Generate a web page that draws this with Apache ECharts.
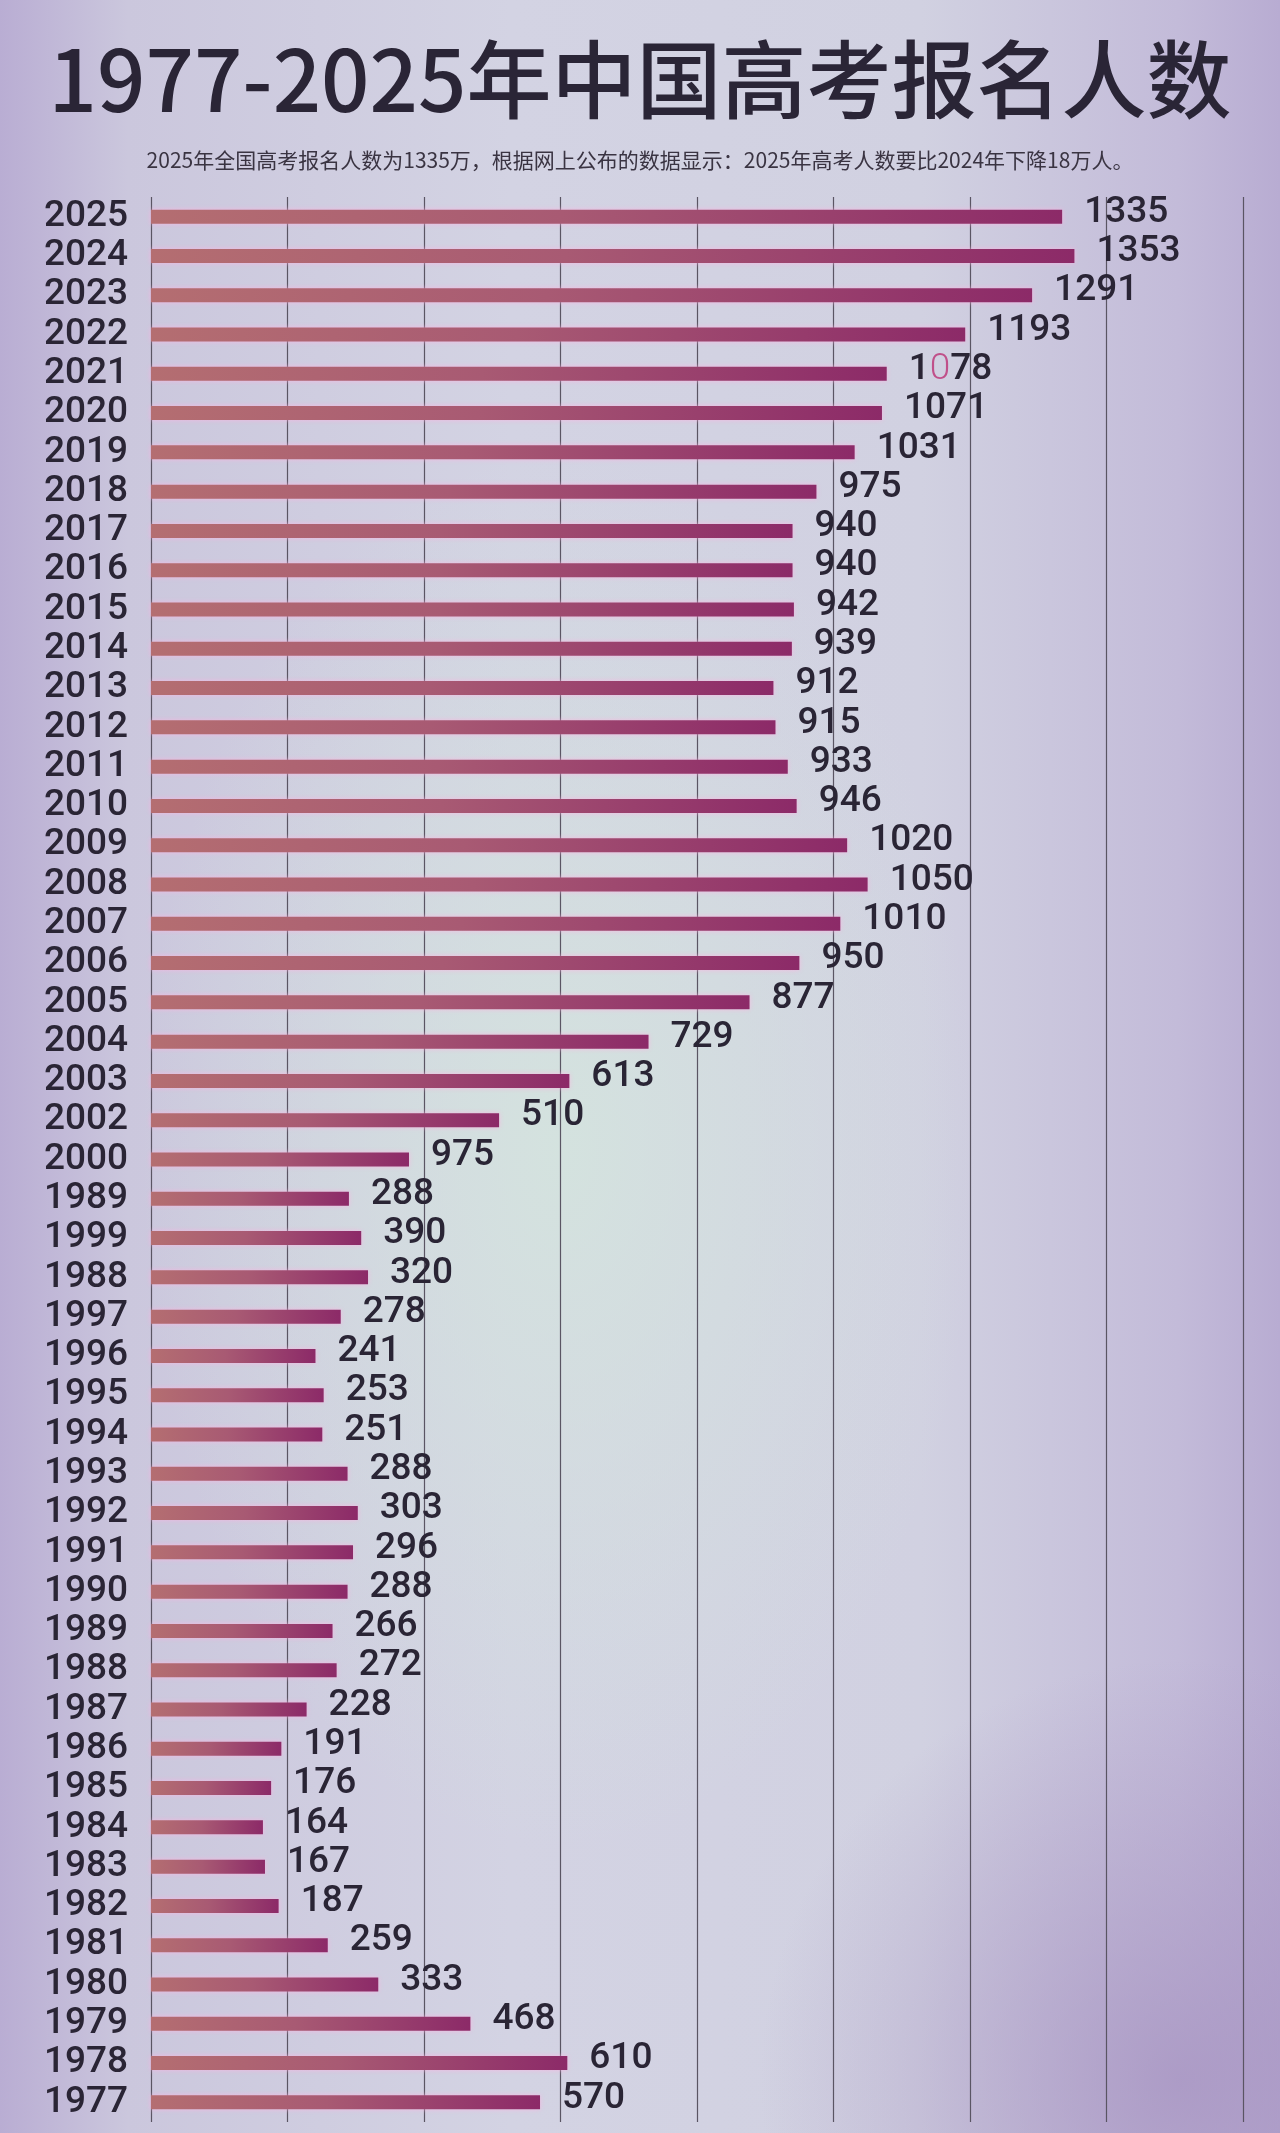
<!DOCTYPE html>
<html>
<head>
<meta charset="utf-8">
<title>1977-2025年中国高考报名人数</title>
<script src="https://cdn.jsdelivr.net/npm/echarts@6/dist/echarts.min.js"></script>
<style>
  html, body {
    margin: 0;
    padding: 0;
  }
  body {
    width: 1280px;
    height: 2133px;
    background:
      radial-gradient(ellipse 420px 700px at 560px 1150px, rgba(212, 228, 222, 0.9), rgba(212, 228, 222, 0) 100%),
      radial-gradient(ellipse 420px 420px at 1180px 2080px, rgba(165, 145, 192, 0.75), rgba(165, 145, 192, 0) 100%),
      linear-gradient(90deg, #b9add3 0%, #cbc7dd 10%, #d3d3e3 40%, #d1d1e1 72%, #c3bbd9 92%, #b8acd2 100%);
  }
  #chart {
    width: 1280px;
    height: 2133px;
  }
</style>
</head>
<body>
<div id="chart"></div>
<script>
  // 年份（自上而下，保持原图顺序）
  const years = [
    "2025", "2024", "2023", "2022", "2021", "2020", "2019", "2018", "2017", "2016",
    "2015", "2014", "2013", "2012", "2011", "2010", "2009", "2008", "2007", "2006",
    "2005", "2004", "2003", "2002", "2000", "1989", "1999", "1988", "1997", "1996",
    "1995", "1994", "1993", "1992", "1991", "1990", "1989", "1988", "1987", "1986",
    "1985", "1984", "1983", "1982", "1981", "1980", "1979", "1978", "1977",
  ];
  // 条形右侧标注的数字（万人）
  const shown = [
    1335, 1353, 1291, 1193, 1078, 1071, 1031, 975, 940, 940,
    942, 939, 912, 915, 933, 946, 1020, 1050, 1010, 950,
    877, 729, 613, 510, 975, 288, 390, 320, 278, 241,
    253, 251, 288, 303, 296, 288, 266, 272, 228, 191,
    176, 164, 167, 187, 259, 333, 468, 610, 570,
  ];
  // 条形长度（按图中量得，2000 与 1999 两行和标注不一致）
  const values = [
    1335, 1353, 1291, 1193, 1078, 1071, 1031, 975, 940, 940,
    942, 939, 912, 915, 933, 946, 1020, 1050, 1010, 950,
    877, 729, 613, 510, 378, 290, 308, 318, 278, 241,
    253, 251, 288, 303, 296, 288, 266, 272, 228, 191,
    176, 164, 167, 187, 259, 333, 468, 610, 570,
  ];
  const xTicks = [0, 200, 400, 600, 800, 1000, 1200, 1400, 1600];

  const titleText = "1977-2025年中国高考报名人数";
  const subText =
    "2025年全国高考报名人数为1335万，根据网上公布的数据显示：2025年高考人数要比2024年下降18万人。";

  const myChart = echarts.init(document.getElementById("chart"), null, {
    renderer: "canvas",
  });

  const numFont = "Roboto, 'Liberation Sans', sans-serif";

  const option = {
    backgroundColor: "transparent",
    animation: false,
    title: {
      text: titleText,
      subtext: subText,
      left: "center",
      top: 32,
      itemGap: 28,
      textStyle: {
        fontFamily: "'Noto Sans CJK SC', sans-serif",
        fontSize: 85,
        fontWeight: 500,
        color: "#2a2536",
      },
      subtextStyle: {
        fontFamily: "'Noto Sans CJK SC', sans-serif",
        fontSize: 21,
        color: "#3a3442",
      },
    },
    grid: {
      left: 151,
      right: 37,
      top: 197,
      bottom: 11,
      containLabel: false,
    },
    xAxis: {
      type: "value",
      min: xTicks[0],
      max: xTicks[xTicks.length - 1],
      interval: xTicks[1] - xTicks[0],
      axisLine: { show: false },
      axisTick: { show: false },
      axisLabel: { show: false },
      splitLine: {
        show: true,
        lineStyle: { color: "#5a5563", width: 1.2 },
      },
    },
    yAxis: {
      type: "category",
      inverse: true,
      data: years,
      axisLine: { show: false },
      axisTick: { show: false },
      axisLabel: {
        interval: 0,
        margin: 23,
        fontFamily: numFont,
        fontSize: 37,
        fontWeight: 500,
        color: "#2a2535",
        padding: [0, 0, 10, 0],
      },
    },
    series: [
      {
        type: "bar",
        data: values,
        barWidth: 14,
        itemStyle: {
          color: {
            type: "linear",
            x: 0,
            y: 0,
            x2: 1,
            y2: 0,
            colorStops: [
              { offset: 0, color: "#b46e71" },
              { offset: 0.45, color: "#a85a73" },
              { offset: 1, color: "#8c2a68" },
            ],
          },
          shadowColor: "rgba(255, 175, 225, 0.75)",
          shadowBlur: 5,
        },
        label: {
          show: true,
          position: "right",
          distance: 22,
          fontFamily: numFont,
          fontSize: 37,
          fontWeight: 500,
          color: "#2a2535",
          padding: [0, 0, 8, 0],
          // 2021 年的 “0” 在原图中是粉色
          formatter: (p) => (p.dataIndex === 4 ? "1{pink|0}78" : String(shown[p.dataIndex])),
          rich: {
            pink: {
              fontFamily: numFont,
              fontSize: 37,
              fontWeight: 300,
              color: "#c0508a",
            },
          },
        },
      },
    ],
  };

  myChart.setOption(option);
</script>
</body>
</html>
